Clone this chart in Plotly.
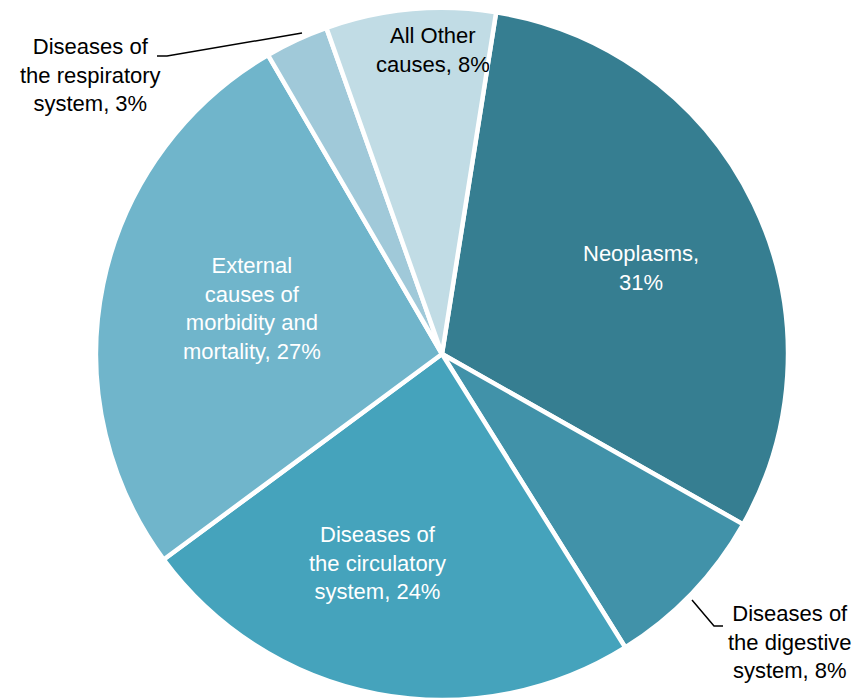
import plotly.graph_objects as go

labels = ["Neoplasms", "Diseases of the digestive system", "Diseases of the circulatory system",
          "External causes of morbidity and mortality", "Diseases of the respiratory system",
          "All Other causes"]
values = [31, 8, 24, 27, 3, 8]
label_text = ["Neoplasms,<br>31%", "Diseases of<br>the digestive<br>system, 8%",
              "Diseases of<br>the circulatory<br>system, 24%",
              "External<br>causes of<br>morbidity and<br>mortality, 27%",
              "Diseases of<br>the respiratory<br>system, 3%", "All Other<br>causes, 8%"]
colors = ["#367E91", "#4192A9", "#45A3BC", "#70B5CB", "#A0C9D9", "#C1DCE5"]

W, H = 863, 700
OFF = 8  # page body margin


def px(x):
    return (x - OFF) / W


def py(y):
    return 1 - (y - OFF) / H


fig = go.Figure(go.Pie(
    labels=labels, values=values, sort=False, direction="clockwise", rotation=9,
    marker=dict(colors=colors, line=dict(color="white", width=4.5)),
    textinfo="none", hoverinfo="label+percent", showlegend=False,
    domain=dict(x=[px(96), px(788)], y=[py(700), py(8)]),
))

# label placement (pixel centres) and colours
label_pos = [(641, 268), (790, 642), (377, 563), (252, 308), (90, 75), (433, 50)]
label_color = ["white", "black", "white", "white", "black", "black"]
for t, (lx, ly), c in zip(label_text, label_pos, label_color):
    fig.add_annotation(x=px(lx), y=py(ly), xref="paper", yref="paper", text=t,
                       showarrow=False, font=dict(color=c, size=22), align="center",
                       xanchor="center", yanchor="middle")


def pline(pts):
    path = "M " + " L ".join(f"{px(x)},{py(y)}" for x, y in pts)
    fig.add_shape(type="path", xref="paper", yref="paper", path=path,
                  line=dict(color="black", width=1.5))


pline([(157, 56), (167, 56), (302, 33)])
pline([(692, 600), (714, 626), (723, 626)])

fig.update_layout(width=W, height=H, margin=dict(l=0, r=0, t=0, b=0),
                  paper_bgcolor="white", plot_bgcolor="white",
                  font=dict(family="Liberation Sans, Arial, sans-serif", size=22))
fig.write_html("out.html")
